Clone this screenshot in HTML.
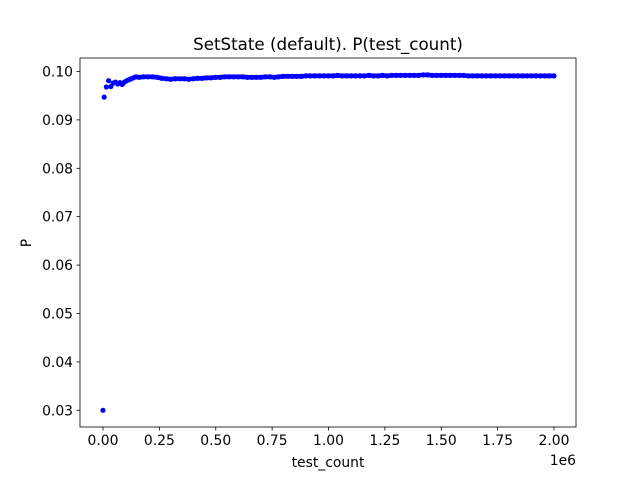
<!DOCTYPE html>
<html><head><meta charset="utf-8"><style>
body{margin:0;background:#fff;font-family:"Liberation Sans","DejaVu Sans",sans-serif}
svg text{font-family:"DejaVu Sans","Liberation Sans",sans-serif;font-size:13.9px;fill:#000}
</style></head><body>
<svg id="chart" width="640" height="480" xmlns="http://www.w3.org/2000/svg">
<rect width="640" height="480" fill="#fff"/>
<text x="328" y="50" text-anchor="middle" style="font-size:16.7px">SetState (default). P(test_count)</text>
<g id="marks"></g>
<rect x="80" y="58" width="496" height="369" fill="none" stroke="#000" stroke-width="0.8"/>
<g id="xt"></g><g id="yt"></g>
<text x="328" y="467" text-anchor="middle">test_count</text>
<text x="576" y="465" text-anchor="end">1e6</text>
<text transform="translate(31,243) rotate(-90)" text-anchor="middle">P</text>
</svg>
<script>
const counts=[0,5,15,25,35,45,55,65,75,85,95,105,115,125,135,145,160,180,200,220,240,260,280,300,320,340,360,380,400,420,440,460,480,500,520,540,560,580,600,620,640,660,680,700,720,740,760,780,800,820,840,860,880,900,920,940,960,980,1000,1020,1040,1060,1080,1100,1120,1140,1160,1180,1200,1220,1240,1260,1280,1300,1320,1340,1360,1380,1400,1420,1440,1460,1480,1500,1520,1540,1560,1580,1600,1620,1640,1660,1680,1700,1720,1740,1760,1780,1800,1820,1840,1860,1880,1900,1920,1940,1960,1980,2000];
const probs=[0.0300,0.0947,0.0968,0.0981,0.0969,0.0976,0.0978,0.0974,0.0977,0.0973,0.0978,0.0981,0.0983,0.0985,0.0987,0.0989,0.0988,0.0989,0.0989,0.0989,0.0988,0.0986,0.0985,0.0984,0.0985,0.0985,0.0985,0.0984,0.0985,0.0986,0.0986,0.0987,0.0987,0.0988,0.0988,0.0989,0.0989,0.0989,0.0989,0.0989,0.0988,0.0988,0.0988,0.0988,0.0989,0.0989,0.0988,0.0989,0.0990,0.0990,0.0990,0.0990,0.0990,0.0991,0.0991,0.0991,0.0991,0.0991,0.0991,0.0991,0.0992,0.0991,0.0991,0.0991,0.0991,0.0991,0.0991,0.0992,0.0991,0.0991,0.0992,0.0991,0.0992,0.0992,0.0992,0.0992,0.0992,0.0992,0.0992,0.0993,0.0993,0.0992,0.0992,0.0992,0.0992,0.0992,0.0992,0.0992,0.0992,0.0991,0.0991,0.0991,0.0991,0.0991,0.0991,0.0991,0.0991,0.0991,0.0991,0.0991,0.0991,0.0991,0.0991,0.0991,0.0991,0.0991,0.0991,0.0991,0.0991];
const xTicks=[0,0.25,0.5,0.75,1.0,1.25,1.5,1.75,2.0];
const xTickLabels=["0.00","0.25","0.50","0.75","1.00","1.25","1.50","1.75","2.00"];
const yTicks=[0.03,0.04,0.05,0.06,0.07,0.08,0.09,0.10];
const yTickLabels=["0.03","0.04","0.05","0.06","0.07","0.08","0.09","0.10"];
const NS="http://www.w3.org/2000/svg";
const xs=v=>103+v/2e6*451;
const ys=v=>71.5+(0.10-v)*4840;
const m=document.getElementById('marks');
// dense band between consecutive samples (from index 15 on, where samples are dense)
let pts=[];
for(let i=15;i<counts.length;i++){pts.push(xs(counts[i]*1000)+','+ys(probs[i]));}
const band=document.createElementNS(NS,'polyline');


band.setAttribute('points',pts.join(' '));band.setAttribute('fill','none');band.setAttribute('stroke','#0000ff');band.setAttribute('stroke-width','4.6');band.setAttribute('stroke-linejoin','round');
m.appendChild(band);
counts.forEach((c,i)=>{const e=document.createElementNS(NS,'circle');


e.setAttribute('cx',xs(c*1000));e.setAttribute('cy',ys(probs[i]));e.setAttribute('r',2.6);e.setAttribute('fill','#0000ff');m.appendChild(e);});
const xt=document.getElementById('xt');
xTicks.forEach((t,i)=>{const x=xs(t*1e6);
const l=document.createElementNS(NS,'line');


l.setAttribute('x1',x);l.setAttribute('x2',x);l.setAttribute('y1',427);l.setAttribute('y2',430.5);l.setAttribute('stroke','#000');l.setAttribute('stroke-width','0.8');xt.appendChild(l);
const s=document.createElementNS(NS,'text');


s.setAttribute('x',x);s.setAttribute('y',445);s.setAttribute('text-anchor','middle');s.textContent=xTickLabels[i];xt.appendChild(s);});
const yt=document.getElementById('yt');
yTicks.forEach((t,i)=>{const y=ys(t);
const l=document.createElementNS(NS,'line');


l.setAttribute('x1',76.5);l.setAttribute('x2',80);l.setAttribute('y1',y);l.setAttribute('y2',y);l.setAttribute('stroke','#000');l.setAttribute('stroke-width','0.8');yt.appendChild(l);
const s=document.createElementNS(NS,'text');


s.setAttribute('x',73);s.setAttribute('y',y+5);s.setAttribute('text-anchor','end');s.textContent=yTickLabels[i];yt.appendChild(s);});
</script>
</body></html>
